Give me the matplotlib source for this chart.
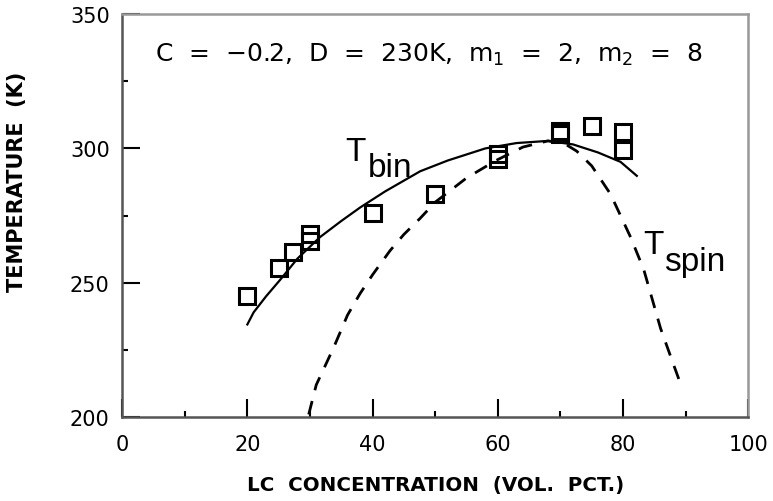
import numpy as np
import matplotlib
matplotlib.use("Agg")
import matplotlib.pyplot as plt
from matplotlib.ticker import MultipleLocator

plt.rcParams['font.family'] = ['DejaVu Sans']
plt.rcParams['mathtext.fontset'] = 'dejavusans'

#
# measured points (LC vol. pct., temperature K)
#
conc_data = [20, 25, 27.3, 30, 30, 40, 50, 60, 60, 70, 70, 75, 80, 80]
temp_data = [245, 255.5, 261.5, 268, 265.5, 276, 283, 296, 298, 306.5, 305.5, 308.5, 306, 299.5]

#
# binodal curve
#
conc_bin = [20, 21, 23, 25.2, 28, 31.6, 35, 38, 42, 47.6, 52, 58, 63, 68, 72, 76, 79.6, 82.2]
temp_bin = [234.5, 239, 245, 251, 259, 267, 273, 278, 284, 291.5, 295.5, 300, 302, 302.8,
            301.5, 298.5, 295, 289.8]

#
# spinodal curve
#
conc_spin = [29.8, 31, 33.8, 36, 38, 40, 42.8, 45, 47.6, 50, 55, 59.7, 64, 68, 70.5,
             72.6, 75, 78, 81.2, 83.3, 86, 88, 89.4]
temp_spin = [201, 212, 226, 238, 246, 253, 262, 268, 274, 280, 289, 295.5, 300.5, 302.8,
             302, 299, 293.5, 283, 267, 255, 233, 220, 211]

fig = plt.figure(figsize=(7.73, 5.02), dpi=100)
ax = fig.add_axes([0.158, 0.167, 0.81, 0.803])

ax.plot(conc_bin, temp_bin, color='black', lw=1.6)
ax.plot(conc_spin, temp_spin, color='black', lw=2.0, dashes=(5, 4))
ax.plot(conc_data, temp_data, linestyle='none', marker='s', ms=11, mew=2.2,
        mfc='none', mec='black')

ax.set_xlim(0, 100)
ax.set_ylim(200, 350)
ax.xaxis.set_major_locator(MultipleLocator(20))
ax.xaxis.set_minor_locator(MultipleLocator(10))
ax.yaxis.set_major_locator(MultipleLocator(50))
ax.yaxis.set_minor_locator(MultipleLocator(25))
ax.tick_params(which='major', direction='in', length=13, width=1.5, labelsize=15,
               top=False, right=False)
ax.tick_params(which='minor', direction='in', length=4, width=1.5, top=False, right=False)
ax.tick_params(axis='x', which='major', pad=12)
ax.tick_params(axis='y', which='major', pad=9)

for side in ['left', 'bottom']:
    ax.spines[side].set_color('#555555')
    ax.spines[side].set_linewidth(1.8)
for side in ['top', 'right']:
    ax.spines[side].set_color('#999999')
    ax.spines[side].set_linewidth(1.8)

ax.set_xlabel('LC  CONCENTRATION  (VOL.  PCT.)', fontsize=14.3, fontweight='bold')
ax.set_ylabel('TEMPERATURE  (K)', fontsize=15, fontweight='bold')
ax.xaxis.set_label_coords(0.5, -0.143)
ax.yaxis.set_label_coords(-0.152, 0.587)

ax.text(5.3, 332.7, 'C  =  \u22120.2,  D  =  230K,  m$_1$  =  2,  m$_2$  =  8',
        fontsize=18, va='baseline', ha='left')

ax.text(35.6, 295.6, 'T', fontsize=24, family='Liberation Sans', va='baseline', ha='left')
ax.text(39.3, 289.7, 'bin', fontsize=24, family='Liberation Sans', va='baseline', ha='left')
ax.text(83.2, 261.0, 'T', fontsize=24, family='Liberation Sans', va='baseline', ha='left')
ax.text(86.6, 254.9, 'spin', fontsize=24, family='Liberation Sans', va='baseline', ha='left')

fig.savefig('out.png', dpi=100)
